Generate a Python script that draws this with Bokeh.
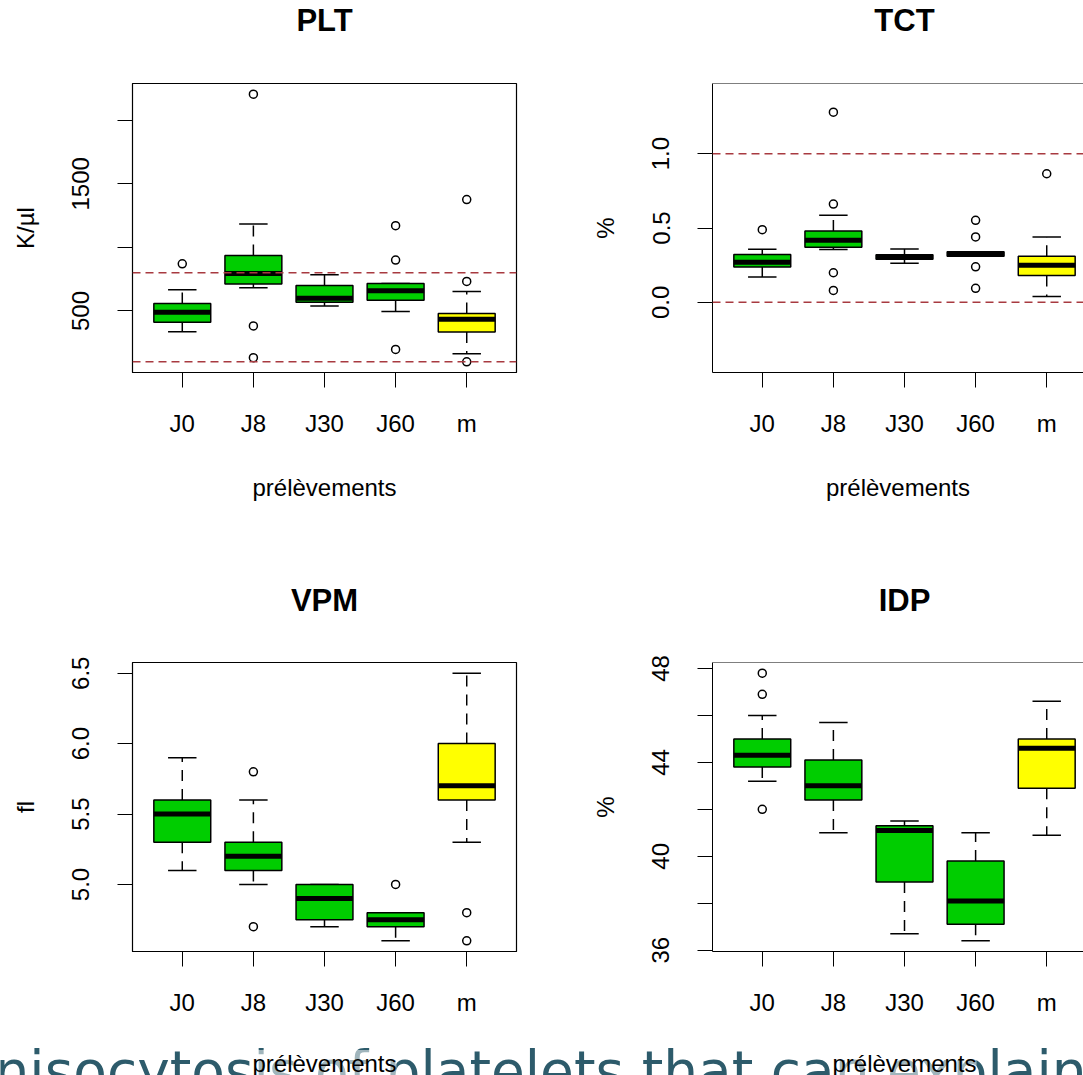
from bokeh.plotting import figure
from bokeh.layouts import column, row
from bokeh.models import Range1d, FixedTicker, Span, ColumnDataSource
from bokeh.core.properties import value
from bokeh.embed import file_html
from bokeh.resources import INLINE

# ---------------- data ----------------
groups = ["J0", "J8", "J30", "J60", "m"]
box_colors = ["#00CD00", "#00CD00", "#00CD00", "#00CD00", "#FFFF00"]
xlabel = "prélèvements"
caption = "nisocytosis of platelets that can explain"
titles = ["PLT", "TCT", "VPM", "IDP"]
ylabs = ["K/µl", "%", "fl", "%"]

# PLT
plt_lo = [337, 682, 539, 495, 163]
plt_q1 = [411, 711, 568, 584, 334]
plt_med = [489, 795, 600, 658, 434]
plt_q3 = [558, 937, 700, 716, 479]
plt_hi = [666, 1184, 784, 716, 653]
plt_out = [[871], [2205, 382, 132], [], [1171, 900, 197], [1376, 732, 100]]
plt_ylim = [100, 2205]
plt_yticks = [500, 1000, 1500, 2000]
plt_ylabels = ["500", "", "1500", ""]
plt_ref = [100, 800]

# TCT
tct_lo = [0.170, 0.355, 0.263, 0.310, 0.040]
tct_q1 = [0.237, 0.370, 0.290, 0.310, 0.180]
tct_med = [0.270, 0.417, 0.305, 0.325, 0.250]
tct_q3 = [0.321, 0.480, 0.320, 0.340, 0.310]
tct_hi = [0.357, 0.585, 0.359, 0.340, 0.440]
tct_out = [[0.489], [1.279, 0.661, 0.199, 0.080], [], [0.552, 0.440, 0.239, 0.094], [0.865]]
tct_ylim = [-0.4, 1.4]
tct_yticks = [0.0, 0.5, 1.0]
tct_ylabels = ["0.0", "0.5", "1.0"]
tct_ref = [0.0, 1.0]

# VPM
vpm_lo = [5.1, 5.0, 4.7, 4.6, 5.3]
vpm_q1 = [5.3, 5.1, 4.75, 4.7, 5.6]
vpm_med = [5.5, 5.2, 4.9, 4.75, 5.7]
vpm_q3 = [5.6, 5.3, 5.0, 4.8, 6.0]
vpm_hi = [5.9, 5.6, 5.0, 4.8, 6.5]
vpm_out = [[], [5.8, 4.7], [], [5.0], [4.8, 4.6]]
vpm_ylim = [4.6, 6.5]
vpm_yticks = [5.0, 5.5, 6.0, 6.5]
vpm_ylabels = ["5.0", "5.5", "6.0", "6.5"]
vpm_ref = []

# IDP
idp_lo = [43.2, 41.0, 36.7, 36.4, 40.9]
idp_q1 = [43.8, 42.4, 38.9, 37.1, 42.9]
idp_med = [44.3, 43.0, 41.1, 38.1, 44.6]
idp_q3 = [45.0, 44.1, 41.3, 39.8, 45.0]
idp_hi = [46.0, 45.7, 41.5, 41.0, 46.6]
idp_out = [[47.8, 46.9, 42.0], [], [], [], []]
idp_ylim = [36.4, 47.8]
idp_yticks = [36, 38, 40, 42, 44, 46, 48]
idp_ylabels = ["36", "", "40", "", "44", "", "48"]
idp_ref = []

# ---------------- layout constants ----------------
PAGE_W = 1083
LEFT_W, RIGHT_W = 541, 542
FRAME_W = 384
FRAME_H = 289
PX_PER_UNIT = FRAME_W / 5.4
LEFT_FRAME_X = 132
RIGHT_FRAME_X = LEFT_W + 171
FONT = "Liberation Sans"

H_STRIP1, H_TOP, H_STRIP2, H_BOT, H_CAP = 40, 520, 80, 390, 45


def panel(ylab, lo, q1, med, q3, hi, outs, ylim, yticks, ylabels, refs,
          right_side, top_row):
    height = H_TOP if top_row else H_BOT
    b_top = 43 if top_row else 22
    b_bot = height - FRAME_H - b_top
    if right_side:
        width, b_left, b_right = RIGHT_W, RIGHT_FRAME_X - LEFT_W, 0
        frame_w = width - b_left
    else:
        width, b_left, b_right = LEFT_W, LEFT_FRAME_X, LEFT_W - LEFT_FRAME_X - FRAME_W
        frame_w = FRAME_W
    span = ylim[1] - ylim[0]
    p = figure(width=width, height=height, output_backend="svg", toolbar_location=None,
               x_range=Range1d(0.3, 0.3 + frame_w / PX_PER_UNIT),
               y_range=Range1d(ylim[0] - 0.04 * span, ylim[1] + 0.04 * span),
               min_border_left=b_left, min_border_right=b_right,
               min_border_top=b_top, min_border_bottom=b_bot,
               background_fill_color="white", border_fill_color="white")
    p.xgrid.visible = False
    p.ygrid.visible = False
    if right_side:
        p.outline_line_color = None
        p.add_layout(Span(location=ylim[1] + 0.04 * span, dimension="width",
                          line_color="black", line_width=1.2))
    else:
        p.outline_line_color = "black"
        p.outline_line_width = 1.2

    xs = list(range(1, len(groups) + 1))
    src = ColumnDataSource(dict(
        x=xs, lo=lo, q1=q1, med=med, q3=q3, hi=hi, color=box_colors,
        xl=[x - 0.4 for x in xs], xr=[x + 0.4 for x in xs],
        cl=[x - 0.2 for x in xs], cr=[x + 0.2 for x in xs]))

    for v in refs:
        p.add_layout(Span(location=v, dimension="width", line_color="#A83A40",
                          line_dash="8 5", line_width=1.5))

    p.segment(x0="x", x1="x", y0="q3", y1="hi", source=src, line_color="black",
              line_width=1.5, line_dash="11 8")
    p.segment(x0="x", x1="x", y0="q1", y1="lo", source=src, line_color="black",
              line_width=1.5, line_dash="11 8")
    p.segment(x0="cl", x1="cr", y0="hi", y1="hi", source=src, line_color="black", line_width=1.5)
    p.segment(x0="cl", x1="cr", y0="lo", y1="lo", source=src, line_color="black", line_width=1.5)
    p.vbar(x="x", width=0.8, top="q3", bottom="q1", source=src, fill_color="color",
           line_color="black", line_width=1.5)
    p.segment(x0="xl", x1="xr", y0="med", y1="med", source=src, line_color="black",
              line_width=5)

    ox = [i + 1 for i, lst in enumerate(outs) for _ in lst]
    oy = [v for lst in outs for v in lst]
    p.scatter(ox, oy, marker="circle", size=8, fill_color=None, line_color="black",
              line_width=1.5)

    # axes
    xa = p.xaxis[0]
    xa.ticker = FixedTicker(ticks=xs)
    xa.major_label_overrides = {x: g for x, g in zip(xs, groups)}
    xa.major_tick_in = 0
    xa.major_tick_out = 15
    xa.minor_tick_line_color = None
    xa.axis_line_color = "black"
    xa.major_tick_line_color = "black"
    xa.major_label_text_font = FONT
    xa.major_label_text_font_size = "24px"
    xa.major_label_text_color = "black"
    xa.major_label_standoff = 22
    if top_row:
        xa.axis_label = xlabel
        xa.axis_label_text_font = FONT
        xa.axis_label_text_font_style = "normal"
        xa.axis_label_text_font_size = "24px"
        xa.axis_label_text_color = "black"
        xa.axis_label_standoff = 34

    ya = p.yaxis[0]
    ya.ticker = FixedTicker(ticks=yticks)
    ya.major_label_overrides = {t: l for t, l in zip(yticks, ylabels)}
    ya.major_label_orientation = "vertical"
    ya.major_tick_in = 0
    ya.major_tick_out = 15
    ya.minor_tick_line_color = None
    ya.axis_line_color = "black"
    ya.major_tick_line_color = "black"
    ya.major_label_text_font = FONT
    ya.major_label_text_font_size = "24px"
    ya.major_label_text_color = "black"
    ya.major_label_standoff = 28
    ya.axis_label = ylab
    ya.axis_label_text_font = FONT
    ya.axis_label_text_font_style = "normal"
    ya.axis_label_text_font_size = "24px"
    ya.axis_label_text_color = "black"
    ya.axis_label_standoff = 31
    return p


def strip(height):
    s = figure(width=PAGE_W, height=height, output_backend="svg", toolbar_location=None,
               x_range=Range1d(0, PAGE_W), y_range=Range1d(0, height),
               x_axis_type=None, y_axis_type=None,
               min_border_left=0, min_border_right=0, min_border_top=0, min_border_bottom=0,
               background_fill_color="white", border_fill_color="white")
    s.outline_line_color = None
    s.xgrid.visible = False
    s.ygrid.visible = False
    return s


centers = [LEFT_FRAME_X + FRAME_W / 2, RIGHT_FRAME_X + FRAME_W / 2]


def title_strip(height, names, y_mid):
    s = strip(height)
    s.text(x=centers, y=[y_mid, y_mid], text=names, text_font=value(FONT),
           text_font_style="bold", text_font_size="31px", text_color="black",
           text_align="center", text_baseline="middle")
    return s


p1 = panel(ylabs[0], plt_lo, plt_q1, plt_med, plt_q3, plt_hi, plt_out, plt_ylim,
           plt_yticks, plt_ylabels, plt_ref, False, True)
p2 = panel(ylabs[1], tct_lo, tct_q1, tct_med, tct_q3, tct_hi, tct_out, tct_ylim,
           tct_yticks, tct_ylabels, tct_ref, True, True)
p3 = panel(ylabs[2], vpm_lo, vpm_q1, vpm_med, vpm_q3, vpm_hi, vpm_out, vpm_ylim,
           vpm_yticks, vpm_ylabels, vpm_ref, False, False)
p4 = panel(ylabs[3], idp_lo, idp_q1, idp_med, idp_q3, idp_hi, idp_out, idp_ylim,
           idp_yticks, idp_ylabels, idp_ref, True, False)

s1 = title_strip(H_STRIP1, titles[:2], 20)
s2 = title_strip(H_STRIP2, titles[2:], 40)

# bottom strip: caption overlapping the lower x-axis titles
cap = strip(H_CAP)
cap.text(x=[-6], y=[5], text=[caption], text_font=value("DejaVu Sans"),
         text_font_size="55px", text_color="#2D5B6B", text_align="left",
         text_baseline="alphabetic")
cap.text(x=centers, y=[12, 12], text=[xlabel, xlabel], text_font=value(FONT),
         text_font_size="24px", text_color="black", text_align="center",
         text_baseline="middle", background_fill_color="white",
         background_fill_alpha=0.55)

layout = column(s1, row(p1, p2, spacing=0), s2, row(p3, p4, spacing=0), cap, spacing=0)
open("out.html", "w").write(file_html(layout, INLINE))
